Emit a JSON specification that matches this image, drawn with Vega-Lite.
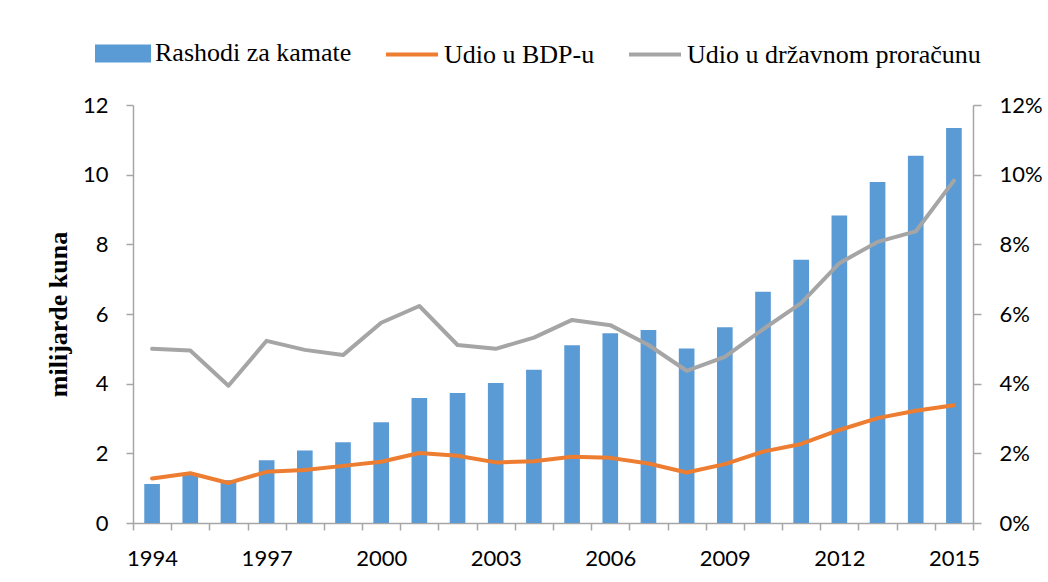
{
  "$schema": "https://vega.github.io/schema/vega-lite/v6.json",
  "width": 840,
  "height": 418,
  "autosize": {"type": "none"},
  "padding": {"left": 133, "top": 105, "right": 75, "bottom": 59},
  "background": "white",
  "config": {
    "view": {"stroke": null},
    "axis": {
      "grid": false,
      "domainColor": "#A6A6A6",
      "tickColor": "#A6A6A6",
      "domainWidth": 1.5,
      "tickWidth": 1.5,
      "labelColor": "#000000",
      "labelFont": "Lato",
      "titleColor": "#000000"
    },
    "legend": {
      "orient": "none",
      "legendX": -38,
      "legendY": -80,
      "direction": "horizontal",
      "labelFont": "Liberation Serif",
      "labelFontSize": 26,
      "labelColor": "#000000",
      "labelLimit": 600,
      "symbolSize": 2704,
      "labelOffset": 4,
      "columnPadding": 26,
      "padding": 0
    }
  },
  "data": {
    "values": [
      {"year": 1994, "rashodi": 1.12, "bdp": 1.28, "proracun": 5.00},
      {"year": 1995, "rashodi": 1.38, "bdp": 1.43, "proracun": 4.95},
      {"year": 1996, "rashodi": 1.23, "bdp": 1.15, "proracun": 3.94},
      {"year": 1997, "rashodi": 1.80, "bdp": 1.47, "proracun": 5.23},
      {"year": 1998, "rashodi": 2.08, "bdp": 1.52, "proracun": 4.97},
      {"year": 1999, "rashodi": 2.32, "bdp": 1.64, "proracun": 4.82},
      {"year": 2000, "rashodi": 2.89, "bdp": 1.76, "proracun": 5.75},
      {"year": 2001, "rashodi": 3.59, "bdp": 2.01, "proracun": 6.23},
      {"year": 2002, "rashodi": 3.73, "bdp": 1.93, "proracun": 5.11},
      {"year": 2003, "rashodi": 4.02, "bdp": 1.74, "proracun": 5.00},
      {"year": 2004, "rashodi": 4.40, "bdp": 1.77, "proracun": 5.32},
      {"year": 2005, "rashodi": 5.10, "bdp": 1.90, "proracun": 5.83},
      {"year": 2006, "rashodi": 5.45, "bdp": 1.87, "proracun": 5.68},
      {"year": 2007, "rashodi": 5.54, "bdp": 1.71, "proracun": 5.11},
      {"year": 2008, "rashodi": 5.01, "bdp": 1.45, "proracun": 4.37},
      {"year": 2009, "rashodi": 5.62, "bdp": 1.69, "proracun": 4.77},
      {"year": 2010, "rashodi": 6.64, "bdp": 2.05, "proracun": 5.56},
      {"year": 2011, "rashodi": 7.56, "bdp": 2.27, "proracun": 6.31},
      {"year": 2012, "rashodi": 8.83, "bdp": 2.67, "proracun": 7.46},
      {"year": 2013, "rashodi": 9.79, "bdp": 3.01, "proracun": 8.07},
      {"year": 2014, "rashodi": 10.54, "bdp": 3.22, "proracun": 8.37},
      {"year": 2015, "rashodi": 11.34, "bdp": 3.38, "proracun": 9.83}
    ]
  },
  "encoding": {
    "x": {
      "field": "year",
      "type": "ordinal",
      "scale": {"paddingInner": 0, "paddingOuter": 0},
      "axis": {
        "title": null,
        "tickBand": "extent",
        "labelAngle": 0,
        "labelFontSize": 22,
        "labelOverlap": false,
        "tickSize": 7,
        "labelPadding": 18,
        "labelExpr": "(datum.value - 1994) % 3 === 0 ? datum.label : ''"
      }
    }
  },
  "layer": [
    {
      "mark": {"type": "bar", "width": {"band": 0.41}},
      "encoding": {
        "y": {
          "field": "rashodi",
          "type": "quantitative",
          "scale": {"domain": [0, 12], "nice": false},
          "axis": {
            "title": "milijarde kuna",
            "titleFont": "Liberation Serif",
            "titleFontSize": 26,
            "titleFontWeight": "bold",
            "titlePadding": 11,
            "values": [0, 2, 4, 6, 8, 10, 12],
            "labelFontSize": 22,
            "tickSize": 7,
            "labelPadding": 18
          }
        },
        "color": {
          "datum": "Rashodi za kamate",
          "scale": {
            "domain": ["Rashodi za kamate", "Udio u BDP-u", "Udio u državnom proračunu"],
            "range": ["#5B9BD5", "#ED7D31", "#A5A5A5"]
          },
          "legend": {
            "title": null,
            "encode": {
              "symbols": {
                "update": {
                  "shape": {"signal": "datum.value === 'Rashodi za kamate' ? 'M-1,-0.27H1V0.27H-1Z' : 'M-1,0H1'"},
                  "fill": {"signal": "datum.value === 'Rashodi za kamate' ? '#5B9BD5' : 'transparent'"},
                  "stroke": {"signal": "datum.value === 'Rashodi za kamate' ? 'transparent' : (datum.value === 'Udio u BDP-u' ? '#ED7D31' : '#A5A5A5')"},
                  "strokeWidth": {"value": 4},
                  "opacity": {"value": 1}
                }
              }
            }
          }
        }
      }
    },
    {
      "layer": [
        {
          "mark": {"type": "line", "strokeWidth": 4, "strokeJoin": "round", "strokeCap": "round"},
          "encoding": {
            "y": {
              "field": "bdp",
              "type": "quantitative",
              "scale": {"domain": [0, 12], "nice": false},
              "axis": {
                "orient": "right",
                "title": null,
                "values": [0, 2, 4, 6, 8, 10, 12],
                "labelExpr": "datum.value + '%'",
                "labelFontSize": 22,
                "tickSize": 8,
                "labelPadding": 18
              }
            },
            "color": {"datum": "Udio u BDP-u"}
          }
        },
        {
          "mark": {"type": "line", "strokeWidth": 4, "strokeJoin": "round", "strokeCap": "round"},
          "encoding": {
            "y": {
              "field": "proracun",
              "type": "quantitative",
              "scale": {"domain": [0, 12], "nice": false},
              "axis": {
                "orient": "right",
                "title": null,
                "values": [0, 2, 4, 6, 8, 10, 12],
                "labelExpr": "datum.value + '%'",
                "labelFontSize": 22,
                "tickSize": 8,
                "labelPadding": 18
              }
            },
            "color": {"datum": "Udio u državnom proračunu"}
          }
        }
      ]
    }
  ],
  "resolve": {"scale": {"y": "independent"}}
}
